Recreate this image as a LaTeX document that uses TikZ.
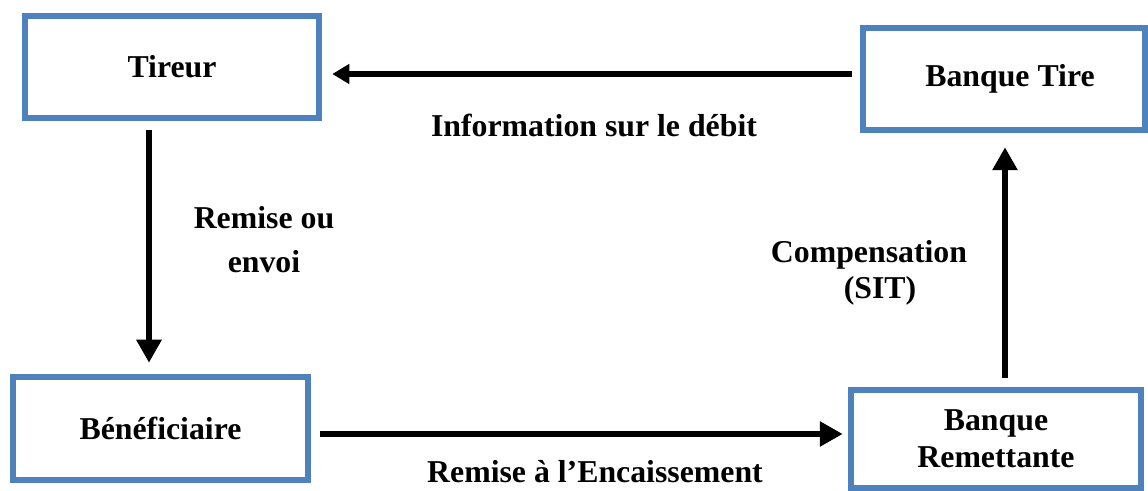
\documentclass[tikz,border=0pt]{standalone}
\usepackage{fontspec}
\setmainfont{Liberation Serif}
\usetikzlibrary{arrows.meta,calc}
\definecolor{boxblue}{HTML}{4F81BD}
\begin{document}
\begin{tikzpicture}[x=0.5pt,y=-0.5pt,
  lbl/.style={font=\bfseries\fontsize{15.9}{18.5}\selectfont, align=center, inner sep=0pt},
  box/.style={lbl, draw=boxblue, line width=3.25pt, fill=white},
  arr/.style={line width=3.25pt, -{Triangle[length=11.5pt,width=12pt]}},
  arrs/.style={line width=2.75pt, -{Triangle[length=8.5pt,width=9.5pt]}}]
\useasboundingbox (0,0) rectangle (1148,491);
\node[box, minimum width=147pt, minimum height=51pt] (tireur) at (172,67) {Tireur};
\node[box, minimum width=141pt, minimum height=51pt] (bt) at (1004,79) {\hspace*{6pt}Banque Tire};
\node[box, minimum width=147.5pt, minimum height=51.5pt] (benef) at (160.5,428.5) {Bénéficiaire};
\node[box, minimum width=145pt, minimum height=49pt] (br) at (996,439) {Banque\\Remettante};
% connector anchor coordinates
\coordinate (ytop) at (0,74);
\coordinate (ybot) at (0,434);
\coordinate (xl) at (149,0);
\coordinate (xr) at (1005,0);
\draw[arrs] ($(bt.west |- ytop)+(-8,0)$) -- ($(tireur.east |- ytop)+(10,0)$);
\draw[arr] ($(tireur.south -| xl)+(0,9)$) -- ($(benef.north -| xl)+(0,-11)$);
\draw[arr] ($(benef.east |- ybot)+(9,0)$) -- ($(br.west |- ybot)+(-5,0)$);
\draw[arr] ($(br.north -| xr)+(0,-9)$) -- ($(bt.south -| xr)+(0,14)$);
\node[lbl, anchor=base] (l1) at (594,137) {Information sur le débit};
\node[lbl, font=\bfseries\fontsize{15.9}{22}\selectfont] (l2) at (264,240) {Remise ou\\envoi};
\node[lbl, font=\bfseries\fontsize{15.9}{18}\selectfont] (l3) at (869,273) {Compensation\\\hspace*{11pt}(SIT)};
\node[lbl, anchor=base] (l4) at (595,483) {Remise à l’Encaissement};
\end{tikzpicture}
\end{document}
